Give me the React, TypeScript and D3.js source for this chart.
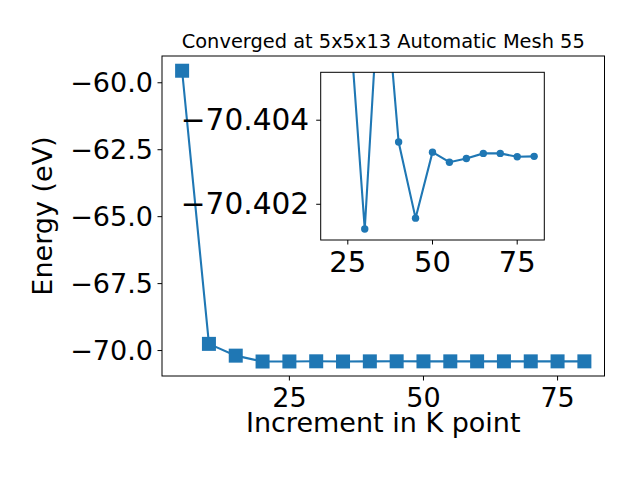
import React, { useEffect, useRef } from 'react';
import * as d3 from 'd3';

const kPoints = [5, 10, 15, 20, 25, 30, 35, 40, 45, 50, 55, 60, 65, 70, 75, 80];
const energies = [
  -59.55, -69.75, -70.19, -70.4088, -70.40699, -70.40141, -70.40824, -70.40348,
  -70.40167, -70.40324, -70.403, -70.40309, -70.40321, -70.40321, -70.40313, -70.40314,
];
const mainYTicks = [-60, -62.5, -65, -67.5, -70];
const mainXTicks = [25, 50, 75];
const insetYTicks = [-70.404, -70.402];
const insetXTicks = [25, 50, 75];
const title = 'Converged at 5x5x13 Automatic Mesh 55';

const BLUE = '#1f77b4';
const FONT = 'DejaVu Sans, sans-serif';

const fmt = (v: number, d: number) => (v < 0 ? '\u2212' : '') + Math.abs(v).toFixed(d);

function App() {
  const ref = useRef<SVGSVGElement>(null);

  useEffect(() => {
    const svg = d3.select(ref.current);
    svg.selectAll('*').remove();
    const data = kPoints.map((k, i) => ({ x: k, y: energies[i] }));

    // main axes
    const m = { left: 162, right: 604.5, top: 56, bottom: 376 };
    const x = d3.scaleLinear().domain([1.25, 83.75]).range([m.left, m.right]);
    const y = d3.scaleLinear().domain([-70.95, -59.0]).range([m.bottom, m.top]);

    const line = d3.line<{ x: number; y: number }>().x(d => x(d.x)).y(d => y(d.y));
    svg.append('path').datum(data).attr('d', line).attr('fill', 'none')
      .attr('stroke', BLUE).attr('stroke-width', 2.1);
    svg.selectAll('.sq').data(data).enter().append('rect')
      .attr('x', d => x(d.x) - 7).attr('y', d => y(d.y) - 7)
      .attr('width', 14).attr('height', 14).attr('fill', BLUE);

    svg.append('rect').attr('x', m.left).attr('y', m.top)
      .attr('width', m.right - m.left).attr('height', m.bottom - m.top)
      .attr('fill', 'none').attr('stroke', 'black').attr('stroke-width', 1);

    const yAx = svg.append('g');
    mainYTicks.forEach(t => {
      yAx.append('line').attr('x1', m.left - 4.5).attr('x2', m.left).attr('y1', y(t)).attr('y2', y(t))
        .attr('stroke', 'black');
      yAx.append('text').attr('x', m.left - 9).attr('y', y(t)).attr('text-anchor', 'end')
        .attr('dominant-baseline', 'central').style('font-size', '27px').style('font-family', FONT)
        .text(fmt(t, 1));
    });
    const xAx = svg.append('g');
    mainXTicks.forEach(t => {
      xAx.append('line').attr('x1', x(t)).attr('x2', x(t)).attr('y1', m.bottom).attr('y2', m.bottom + 4.5)
        .attr('stroke', 'black');
      xAx.append('text').attr('x', x(t)).attr('y', 406.5).attr('text-anchor', 'middle')
        .style('font-size', '27px').style('font-family', FONT).text(String(t));
    });

    svg.append('text').attr('x', (m.left + m.right) / 2).attr('y', 432).attr('text-anchor', 'middle')
      .style('font-size', '27px').style('font-family', FONT).text('Increment in K point');
    svg.append('text').attr('transform', `translate(51.5, ${(m.top + m.bottom) / 2}) rotate(-90)`)
      .attr('text-anchor', 'middle').style('font-size', '27px').style('font-family', FONT)
      .text('Energy (eV)');
    svg.append('text').attr('x', (m.left + m.right) / 2).attr('y', 47.5).attr('text-anchor', 'middle')
      .style('font-size', '19.4px').style('font-family', FONT).text(title);

    // inset axes
    const n = { left: 320.7, right: 544.3, top: 72.3, bottom: 240 };
    const xi = d3.scaleLinear().domain([17, 83]).range([n.left, n.right]);
    const yi = d3.scaleLinear().domain([-70.40514, -70.40115]).range([n.top, n.bottom]);
    const inData = data.filter(d => d.x >= 20);

    svg.append('rect').attr('x', n.left).attr('y', n.top)
      .attr('width', n.right - n.left).attr('height', n.bottom - n.top).attr('fill', 'white');
    svg.append('clipPath').attr('id', 'inset-clip').append('rect')
      .attr('x', n.left).attr('y', n.top).attr('width', n.right - n.left).attr('height', n.bottom - n.top);
    const g = svg.append('g').attr('clip-path', 'url(#inset-clip)');
    const iline = d3.line<{ x: number; y: number }>().x(d => xi(d.x)).y(d => yi(d.y));
    g.append('path').datum(inData).attr('d', iline).attr('fill', 'none')
      .attr('stroke', BLUE).attr('stroke-width', 2.1);
    g.selectAll('circle').data(inData).enter().append('circle')
      .attr('cx', d => xi(d.x)).attr('cy', d => yi(d.y)).attr('r', 3.7).attr('fill', BLUE);

    svg.append('rect').attr('x', n.left).attr('y', n.top)
      .attr('width', n.right - n.left).attr('height', n.bottom - n.top)
      .attr('fill', 'none').attr('stroke', 'black').attr('stroke-width', 1);

    insetYTicks.forEach(t => {
      svg.append('line').attr('x1', n.left - 4.5).attr('x2', n.left).attr('y1', yi(t)).attr('y2', yi(t))
        .attr('stroke', 'black');
      svg.append('text').attr('x', n.left - 11.5).attr('y', yi(t)).attr('text-anchor', 'end')
        .attr('dominant-baseline', 'central').style('font-size', '29.6px').style('font-family', FONT)
        .text(fmt(t, 3));
    });
    insetXTicks.forEach(t => {
      svg.append('line').attr('x1', xi(t)).attr('x2', xi(t)).attr('y1', n.bottom).attr('y2', n.bottom + 4.5)
        .attr('stroke', 'black');
      svg.append('text').attr('x', xi(t)).attr('y', 272).attr('text-anchor', 'middle')
        .style('font-size', '29px').style('font-family', FONT).text(String(t));
    });
  }, []);

  return (
    <svg ref={ref} width={640} height={480}
      style={{ position: 'absolute', left: 0, top: 0, background: 'white' }} />
  );
}

export default App;
